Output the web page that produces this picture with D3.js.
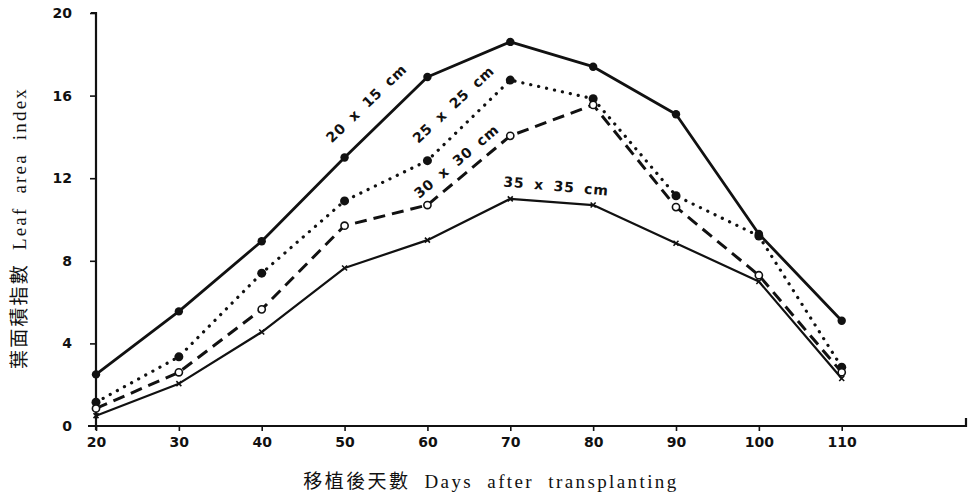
<!DOCTYPE html>
<html><head><meta charset="utf-8">
<script src="https://cdn.jsdelivr.net/npm/d3@7"></script>
<style>body{margin:0;background:#fff}</style>
</head><body>
<svg id="c" width="970" height="499"></svg>
<script>
const days = [20,30,40,50,60,70,80,90,100,110];
const s20x15 = [2.5,5.55,8.95,13.0,16.9,18.6,17.4,15.1,9.3,5.1];
const s25x25 = [1.15,3.35,7.4,10.9,12.85,16.75,15.85,11.15,9.2,2.85];
const s30x30 = [0.85,2.6,5.65,9.7,10.7,14.05,15.55,10.6,7.3,2.6];
const s35x35 = [0.5,2.05,4.55,7.65,9.0,11.0,10.7,8.85,7.0,2.3];
const xTicks = [20,30,40,50,60,70,80,90,100,110];
const yTicks = [0,4,8,12,16,20];
const seriesNames = ["20 x 15 cm","25 x 25 cm","30 x 30 cm","35 x 35 cm"];

const svg = d3.select("#c");
const x = d3.scaleLinear().domain([20,125]).range([96,966]);
const y = d3.scaleLinear().domain([0,20]).range([426,13]);
const ink = "#111";

// axes
const xAxis = svg.append("g").attr("transform","translate(0,"+y(0)+")")
  .call(d3.axisBottom(x).tickValues(xTicks).tickSize(5).tickPadding(6).tickFormat(d3.format("d")));
xAxis.select(".domain").attr("d","M88,0H966V-8");
const yAxis = svg.append("g").attr("transform","translate("+x(20)+",0)")
  .call(d3.axisLeft(y).tickValues(yTicks).tickSize(6).tickPadding(18));
yAxis.select(".domain").attr("d","M-5,"+y(20)+"H0V"+(y(0)+4));
[xAxis,yAxis].forEach(a=>{
  a.selectAll(".domain").attr("stroke",ink).attr("stroke-width",2.2).attr("fill","none");
  a.selectAll(".tick line").attr("stroke",ink).attr("stroke-width",1.6);
  a.selectAll(".tick text").attr("fill",ink).attr("font-family","DejaVu Sans, sans-serif")
    .attr("font-weight","bold").attr("font-size",14);
});
yAxis.selectAll(".tick").filter(d=>d===0).select("line").remove();

const line = d3.line().x((d,i)=>x(days[i])).y(d=>y(d));
const styles = [
  {data:s20x15, w:2.8, dash:null, cap:"butt"},
  {data:s25x25, w:3.2, dash:"0.1,8", cap:"round"},
  {data:s30x30, w:3, dash:"12,7", cap:"butt"},
  {data:s35x35, w:2.2, dash:null, cap:"butt"}
];
styles.forEach(s=>{
  svg.append("path").attr("d",line(s.data)).attr("fill","none").attr("stroke",ink)
    .attr("stroke-width",s.w).attr("stroke-linecap",s.cap).attr("stroke-linejoin","round")
    .attr("stroke-dasharray",s.dash);
});
// markers
svg.append("g").selectAll("circle").data(s20x15).join("circle")
  .attr("cx",(d,i)=>x(days[i])).attr("cy",d=>y(d)).attr("r",4.2).attr("fill",ink);
svg.append("g").selectAll("circle").data(s25x25).join("circle")
  .attr("cx",(d,i)=>x(days[i])).attr("cy",d=>y(d)).attr("r",4.5).attr("fill",ink);
svg.append("g").selectAll("circle").data(s30x30).join("circle")
  .attr("cx",(d,i)=>x(days[i])).attr("cy",d=>y(d)).attr("r",3.6).attr("fill","#fff")
  .attr("stroke",ink).attr("stroke-width",1.6);
svg.append("g").selectAll("path").data(s35x35).join("path")
  .attr("transform",(d,i)=>"translate("+x(days[i])+","+y(d)+")")
  .attr("d","M-2.5,-2.5L2.5,2.5M-2.5,2.5L2.5,-2.5").attr("stroke",ink).attr("stroke-width",1.6);

// series labels
const labelPos = [[367,104,-44],[454,105,-43],[457,162,-40],[556,187,5]];
seriesNames.forEach((n,i)=>{
  const p = labelPos[i];
  svg.append("text").attr("transform","translate("+p[0]+","+p[1]+") rotate("+p[2]+")")
    .attr("text-anchor","middle").attr("dominant-baseline","middle")
    .attr("font-family","DejaVu Sans, sans-serif").attr("font-weight","bold")
    .attr("font-size",14).attr("fill",ink).attr("letter-spacing",0.8).attr("word-spacing",4).text(n);
});

// axis titles
svg.append("text").attr("transform","translate(22,228) rotate(-90)")
  .attr("text-anchor","middle").attr("dominant-baseline","middle")
  .attr("font-family","Liberation Serif, 'Noto Sans CJK TC', serif").attr("font-size",19)
  .attr("fill",ink).attr("letter-spacing",2.2).attr("word-spacing",6)
  .text("葉面積指數 Leaf area index");
svg.append("text").attr("x",491).attr("y",488)
  .attr("text-anchor","middle")
  .attr("font-family","Liberation Serif, 'Noto Sans CJK TC', serif").attr("font-size",19)
  .attr("fill",ink).attr("letter-spacing",2.4).attr("word-spacing",7)
  .text("移植後天數 Days after transplanting");
</script>
</body></html>
